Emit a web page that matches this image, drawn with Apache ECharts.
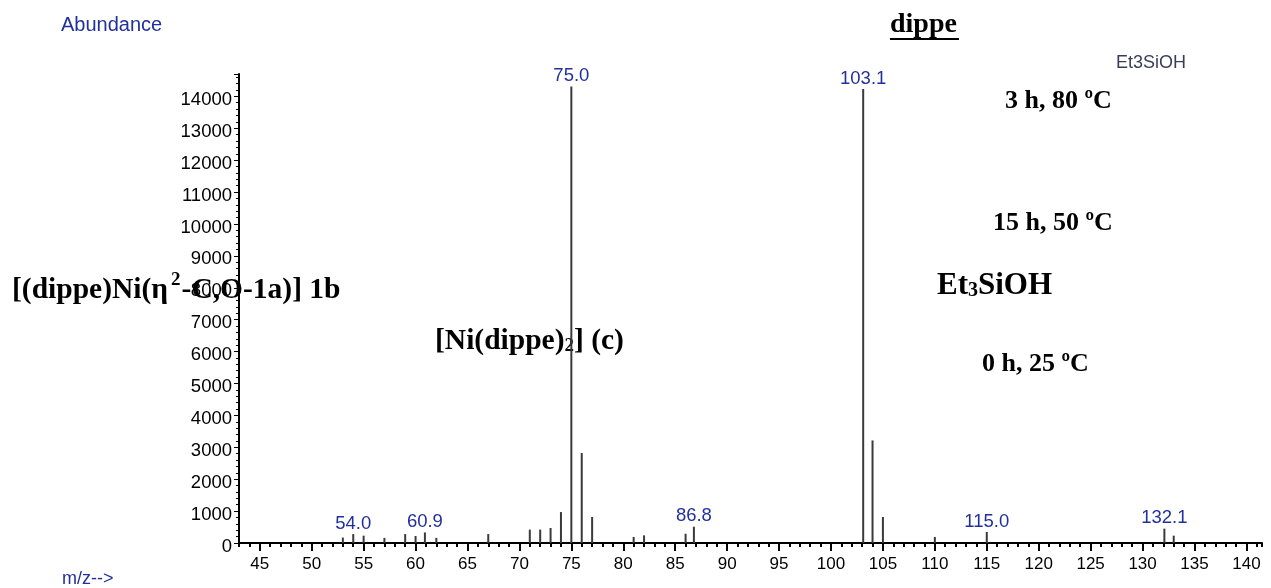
<!DOCTYPE html>
<html>
<head>
<meta charset="utf-8">
<script src="https://cdn.jsdelivr.net/npm/echarts@6/dist/echarts.min.js"></script>
<style>
html,body{margin:0;padding:0;background:#fff;}
#chart{width:1271px;height:588px;}
</style>
</head>
<body>
<div id="chart"></div>
<script>
// m/z values of the spectrum lines
const mz = [53, 54.0, 55, 57, 59, 60, 60.9, 62, 67, 71, 72, 73, 74, 75.0, 76, 77, 81, 82, 86, 86.8, 103.1, 104, 105, 110, 115.0, 132.1, 133];
// abundance of each line
const abundance = [170, 280, 230, 160, 280, 220, 330, 160, 280, 420, 420, 470, 970, 14310, 2820, 815, 190, 240, 290, 510, 14230, 3215, 815, 190, 345, 450, 230];
// peaks that carry an m/z label
const labelledPeaks = [54.0, 60.9, 75.0, 86.8, 103.1, 115.0, 132.1];
// labelled x ticks
const xTickLabels = [45, 50, 55, 60, 65, 70, 75, 80, 85, 90, 95, 100, 105, 110, 115, 120, 125, 130, 135, 140];

const chart = echarts.init(document.getElementById('chart'), null, {renderer: 'canvas'});
const tickFont = "'Liberation Sans', Arial, sans-serif";
const blue = '#22309c';
const serif = '"Liberation Serif", "Times New Roman", serif';

const option = {
  animation: false,
  backgroundColor: '#fff',
  grid: {left: 239, right: 9, top: 74, bottom: 45, containLabel: false},
  xAxis: [{
    type: 'value', min: 43, max: 141.5, interval: 1,
    axisLine: {show: true, onZero: false, lineStyle: {color: '#000', width: 2}},
    axisTick: {show: true, inside: false, length: 4, lineStyle: {color: '#000', width: 2}},
    axisLabel: {show: false},
    splitLine: {show: false}
  }, {
    type: 'value', min: 43, max: 141.5, position: 'bottom',
    axisLine: {show: false},
    axisTick: {show: true, inside: false, length: 8, customValues: xTickLabels, lineStyle: {color: '#000', width: 2}},
    axisLabel: {show: true, customValues: xTickLabels, margin: 13, color: '#000', fontFamily: tickFont, fontSize: 17},
    splitLine: {show: false}
  }],
  yAxis: {
    type: 'value', min: 0, max: 14700, interval: 1000,
    axisLine: {show: true, lineStyle: {color: '#000', width: 2}},
    axisTick: {show: true, inside: false, length: 5, lineStyle: {color: '#000', width: 1}},
    minorTick: {show: true, splitNumber: 5, length: 3, lineStyle: {color: '#000', width: 1}},
    axisLabel: {show: true, showMaxLabel: false, margin: 7, color: '#000', fontFamily: tickFont, fontSize: 18.5,
      verticalAlign: 'top', lineHeight: 7, formatter: v => String(v)},
    splitLine: {show: false}
  },
  series: [{
    type: 'bar',
    xAxisIndex: 0,
    barWidth: 2,
    itemStyle: {color: '#3a3a3a'},
    label: {
      position: 'top', distance: 1, color: blue,
      fontFamily: "'Liberation Sans', Arial, sans-serif", fontSize: 18.5,
      formatter: p => p.value[0].toFixed(1)
    },
    data: mz.map((m, i) => ({value: [m, abundance[i]], label: {show: labelledPeaks.includes(m)}}))
  }],
  graphic: [
    {type: 'text', x: 61, y: 25, style: {text: 'Abundance', font: "20px 'Liberation Sans', Arial, sans-serif", fill: blue, verticalAlign: 'middle'}},
    {type: 'text', x: 62, y: 579, style: {text: 'm/z-->', font: "18px 'Liberation Sans', Arial, sans-serif", fill: blue, verticalAlign: 'middle'}},
    {type: 'text', x: 1116, y: 63, style: {text: 'Et3SiOH', font: "18px 'Liberation Sans', Arial, sans-serif", fill: '#3c3c58', verticalAlign: 'middle'}},
    {type: 'text', x: 890, y: 25, style: {text: 'dippe', font: 'bold 28px ' + serif, fill: '#000', verticalAlign: 'middle'}},
    {type: 'line', shape: {x1: 890, y1: 39, x2: 959, y2: 39}, style: {stroke: '#000', lineWidth: 2}},
    {type: 'text', x: 1005, y: 101, style: {text: '3 h, 80 ºC', font: 'bold 26px ' + serif, fill: '#000', verticalAlign: 'middle'}},
    {type: 'text', x: 993, y: 223, style: {text: '15 h, 50 ºC', font: 'bold 26px ' + serif, fill: '#000', verticalAlign: 'middle'}},
    {type: 'text', x: 982, y: 364, style: {text: '0 h, 25 ºC', font: 'bold 26px ' + serif, fill: '#000', verticalAlign: 'middle'}},
    {type: 'text', x: 937, y: 283, style: {
      text: '{a|Et}{s|3}{a|SiOH}', verticalAlign: 'middle',
      rich: {
        a: {fontFamily: serif, fontWeight: 'bold', fontSize: 31, color: '#000', lineHeight: 36, verticalAlign: 'bottom'},
        s: {fontFamily: serif, fontWeight: 'bold', fontSize: 20, color: '#000', lineHeight: 30, verticalAlign: 'bottom'}
      }
    }},
    {type: 'text', x: 12, y: 288, style: {
      text: '{a|[(dippe)Ni(η}{p|2}{a|-C,O-1a)] 1b}', verticalAlign: 'middle',
      rich: {
        a: {fontFamily: serif, fontWeight: 'bold', fontSize: 29.5, color: '#000', lineHeight: 34, verticalAlign: 'bottom'},
        p: {fontFamily: serif, fontWeight: 'bold', fontSize: 19, color: '#000', lineHeight: 34, verticalAlign: 'top', padding: [0, 1, 0, 3]}
      }
    }},
    {type: 'text', x: 435, y: 339, style: {
      text: '{a|[Ni(dippe)}{s|2}{a|] (c)}', verticalAlign: 'middle',
      rich: {
        a: {fontFamily: serif, fontWeight: 'bold', fontSize: 29.5, color: '#000', lineHeight: 34, verticalAlign: 'bottom'},
        s: {fontFamily: serif, fontWeight: 'bold', fontSize: 19, color: '#000', lineHeight: 26, verticalAlign: 'bottom'}
      }
    }}
  ]
};
chart.setOption(option);
</script>
</body>
</html>
